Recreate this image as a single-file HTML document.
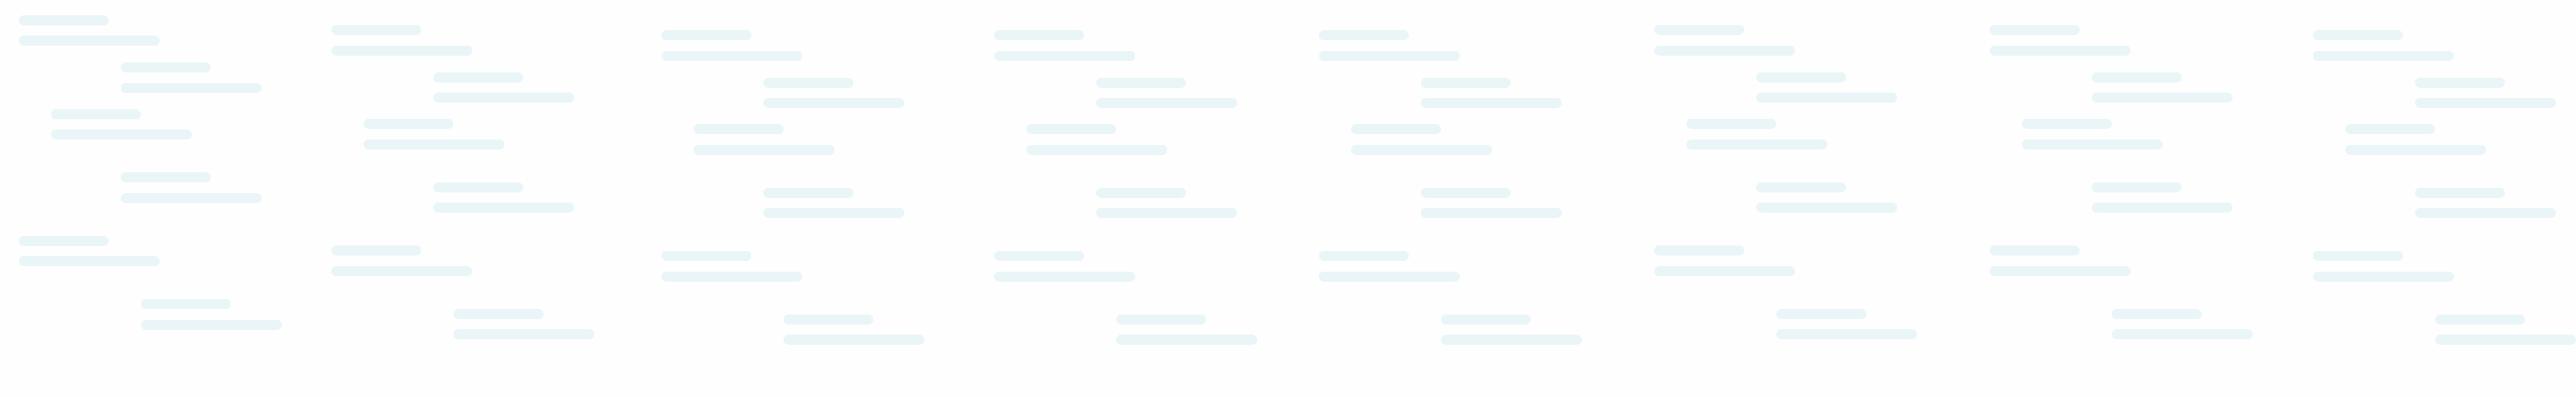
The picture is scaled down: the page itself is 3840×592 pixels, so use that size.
<!DOCTYPE html>
<html><head><meta charset="utf-8"><style>
html,body{margin:0;padding:0;background:#fefefe;}
#stage{position:relative;width:3840px;height:592px;overflow:hidden;background:#fefefe;}
.bar{position:absolute;height:15px;border-radius:7.5px;background:#eaf5f7;}
</style></head><body>
<div id="stage"></div>
<script>
// group origins (one per column)
const groupX = [28, 493.6, 985.5, 1482, 1965.5, 2466, 2966, 3448];
const groupY = [22.5, 37, 45, 45, 45, 37, 37, 45];
// node offsets within a group
const nodeDX = [0, 152, 48, 152, 0, 182];
const nodeDY = [0, 70.5, 140, 234.5, 329, 423.5];
const shortW = 134;
const longW = 210;
const lineGap = 30.5;
const stage = document.getElementById('stage');
for (let g = 0; g < groupX.length; g++) {
  for (let n = 0; n < nodeDX.length; n++) {
    const x = groupX[g] + nodeDX[n];
    const y = groupY[g] + nodeDY[n];
    const a = document.createElement('div');
    a.className = 'bar';
    
    
    a.style.left = x + 'px'; a.style.top = y + 'px'; a.style.width = shortW + 'px';
    stage.appendChild(a);
    const b = document.createElement('div');
    b.className = 'bar';
    
    
    b.style.left = x + 'px'; b.style.top = (y + lineGap) + 'px'; b.style.width = longW + 'px';
    stage.appendChild(b);
  }
}
</script>
</body></html>
